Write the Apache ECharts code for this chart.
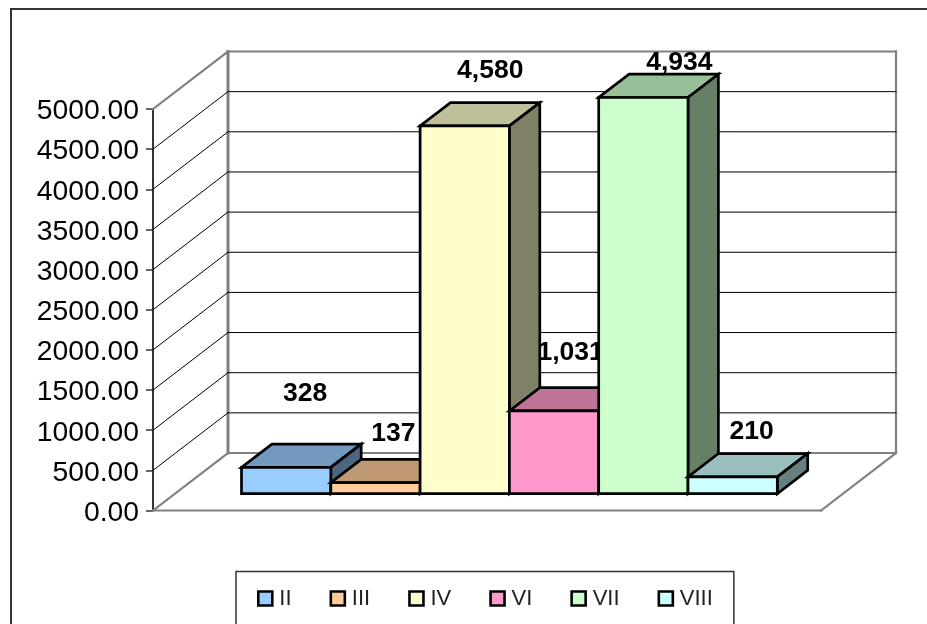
<!DOCTYPE html>
<html><head><meta charset="utf-8">
<style>html,body{margin:0;padding:0;background:#fff}#c{width:927px;height:624px}</style>
<script src="https://cdn.jsdelivr.net/npm/echarts@6/dist/echarts.min.js"></script>
</head><body><div id="c"></div>
<script>
const categories = ['II','III','IV','VI','VII','VIII'];
const values = [328,137,4580,1031,4934,210];
const colors = ['#99CCFF','#FFCC99','#FFFFCC','#FF99CC','#CCFFCC','#CCFFFF'];
const yTicks = [0,500,1000,1500,2000,2500,3000,3500,4000,4500,5000];
const labelNudgeX = [19,18,25.5,16.5,36,19];
const labelNudgeY = [-74,-48.6,-55,-58,-35,-44.7];

const FONT = '"Liberation Sans", Arial, sans-serif';
const WALL_DX = 75, WALL_DY = -57.5;
const FRONT_DX = 22.4, FRONT_DY = -16.8;
const BAR_DX = 30.4, BAR_DY = -23.3;
const BAR_RATIO = 89.3 / 668;

function shade(hex, k){
  const n = parseInt(hex.slice(1),16);
  const c = s => Math.round(((n>>s)&255)*k);
  return 'rgb('+c(16)+','+c(8)+','+c(0)+')';
}
function bandLeft(api){ return api.coord([0,0])[0] - api.size([1,0])[0]/2; }
function barX(api,i){
  const band = api.size([1,0])[0], w = band*BAR_RATIO;
  return api.coord([0,0])[0] + (i-categories.length/2)*w + FRONT_DX;
}
function poly(points, fill){
  return {type:'polygon', shape:{points}, style:{fill, stroke:'#000', lineWidth:2.7, lineJoin:'miter'}};
}
function seg(x1,y1,x2,y2,stroke,lineWidth){
  return {type:'line', shape:{x1,y1,x2,y2}, style:{stroke,lineWidth,lineCap:'square'}};
}
function renderWall(params, api){
  const v = api.value(1), y = api.coord([0,v])[1];
  const x0 = bandLeft(api), x1 = x0 + api.size([1,0])[0];
  const edge = v===yTicks[0] || v===yTicks[yTicks.length-1];
  const col = edge ? '#808080' : '#000', lw = edge ? 2.2 : 1;
  const kids = [
    seg(x0,y,x0+WALL_DX,y+WALL_DY,col,lw),
    seg(x0+WALL_DX,y+WALL_DY,x1+WALL_DX,y+WALL_DY,col,lw)
  ];
  if(v===yTicks[0]){
    const top = api.coord([0,yTicks[yTicks.length-1]])[1];
    kids.push(seg(x0,y,x1,y,col,2.2));
    kids.push(seg(x1,y,x1+WALL_DX,y+WALL_DY,col,2.2));
    kids.push(seg(x1+WALL_DX,y+WALL_DY,x1+WALL_DX,top+WALL_DY,col,2.2));
    kids.push(seg(x0+WALL_DX,y+WALL_DY,x0+WALL_DX,top+WALL_DY,col,3));
  }
  return {type:'group', children:kids};
}
function renderBar(i){
  return function(params, api){
    const w = api.size([1,0])[0]*BAR_RATIO;
    const x = barX(api,i), xr = x+w;
    const yb = api.coord([0,0])[1] + FRONT_DY;
    const yt = api.coord([0,api.value(1)])[1] + FRONT_DY;
    const c = colors[i];
    return {type:'group', children:[
      poly([[x,yt],[xr,yt],[xr+BAR_DX,yt+BAR_DY],[x+BAR_DX,yt+BAR_DY]], shade(c,0.75)),
      poly([[xr,yt],[xr+BAR_DX,yt+BAR_DY],[xr+BAR_DX,yb+BAR_DY],[xr,yb]], shade(c,0.5)),
      poly([[x,yt],[xr,yt],[xr,yb],[x,yb]], c)
    ]};
  };
}
function renderLabel(params, api){
  const i = params.dataIndex;
  const w = api.size([1,0])[0]*BAR_RATIO;
  const x = barX(api,i)+w/2+labelNudgeX[i];
  const y = api.coord([0,api.value(1)])[1]+FRONT_DY+labelNudgeY[i];
  return {type:'text', style:{
    text: values[i].toLocaleString('en-US'), x, y,
    align:'center', verticalAlign:'middle',
    font:'700 26.5px '+FONT, fill:'#000'
  }};
}

const series = [
  {type:'custom', name:'walls', z:1, silent:true, clip:false, renderItem:renderWall,
   encode:{x:0,y:1}, data:yTicks.map(v=>[0,v])},
  {type:'custom', name:'labels', z:2, silent:true, clip:false, renderItem:renderLabel,
   encode:{x:0,y:1}, data:values.map(v=>[0,v])}
];
categories.forEach((name,i)=>{
  series.push({type:'custom', name, z:3, clip:false, renderItem:renderBar(i),
    itemStyle:{color:colors[i]}, encode:{x:0,y:1}, data:[[0,values[i]]]});
});

const chart = echarts.init(document.getElementById('c'),null,{renderer:'canvas'});
chart.setOption({
  animation:false,
  backgroundColor:'#fff',
  graphic:[{type:'rect', z:-1, silent:true,
    shape:{x:11,y:9,width:960,height:720},
    style:{fill:'none',stroke:'#333',lineWidth:2}}],
  grid:{left:153,top:109,width:668,height:401.5,containLabel:false},
  xAxis:{type:'category',data:[''],axisLine:{show:false},axisTick:{show:false},axisLabel:{show:false},splitLine:{show:false}},
  yAxis:{type:'value',min:0,max:5000,interval:500,
    axisLine:{show:true,lineStyle:{color:'#333',width:2}},
    axisTick:{show:true,length:7,lineStyle:{color:'#333',width:1.5}},
    splitLine:{show:false},
    axisLabel:{margin:14,color:'#000',fontSize:28.3,fontFamily:FONT,verticalAlign:'top',lineHeight:5,formatter:v=>v.toFixed(2)}},
  legend:{data:categories,left:236,top:571.5,orient:'horizontal',icon:'rect',
    itemWidth:14,itemHeight:14,itemGap:38,
    padding:[16,21,40,21],
    borderColor:'#333',borderWidth:1.5,backgroundColor:'#fff',
    itemStyle:{borderColor:'#000',borderWidth:2.6},
    textStyle:{color:'#222',fontSize:22,fontFamily:FONT,padding:[0,0,0,2]}},
  series
});
</script></body></html>
